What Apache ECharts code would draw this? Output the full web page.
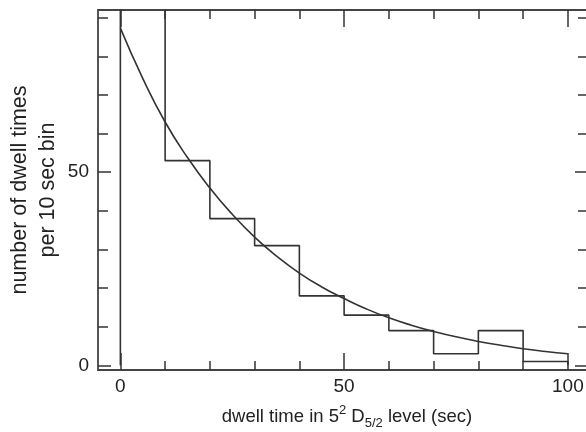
<!DOCTYPE html>
<html>
<head>
<meta charset="utf-8">
<script src="https://cdn.jsdelivr.net/npm/echarts@6/dist/echarts.min.js"></script>
<style>html,body{margin:0;padding:0;background:#fff}#c{width:586px;height:432px}</style>
</head>
<body>
<div id="c"></div>
<script>
// Histogram: bin edges (sec) and counts per 10 sec bin (first bin runs off the top)
const binStarts = [0, 10, 20, 30, 40, 50, 60, 70, 80, 90];
const binWidth = 10;
const binCounts = [105, 53, 38, 31, 18, 13, 9, 3, 9, 1];
// Fitted decay curve
const curveX = [0, 5, 10, 15, 20, 25, 30, 35, 40, 45, 50, 55, 60, 65, 70, 75, 80, 85, 90, 95, 100];
const curveY = [87.3, 74.3, 63, 53.8, 45.9, 39.1, 33.2, 28.2, 23.9, 20.3, 17.3, 14.6, 12.3, 10.4, 8.8, 7.4, 6.2, 5.2, 4.3, 3.6, 3.0];
// Ticks and labels
const xMinorTicks = [0, 10, 20, 30, 40, 50, 60, 70, 80, 90, 100];
const xMajorTicks = [0, 50, 100];
const yMinorTicks = [0, 10, 20, 30, 40, 50, 60, 70, 80, 90];
const yMajorTicks = [0, 50];

const histPts = [[binStarts[0], 0]];
binStarts.forEach((s, i) => {
  histPts.push([s, binCounts[i]]);
  histPts.push([s + binWidth, binCounts[i]]);
});
histPts.push([binStarts[binStarts.length - 1] + binWidth, 0]);
const curvePts = curveX.map((x, i) => [x, curveY[i]]);

const X_MIN = -5, X_MAX = 104.5, Y_MIN = -1.2, Y_MAX = 92;
const lineCol = '#333';
const txt = '#222';
const font = 'Liberation Sans';

function xAx(pos, ticks, len, labels, extra) {
  return Object.assign({
    type: 'value', position: pos, min: X_MIN, max: X_MAX,
    axisLine: { show: false, onZero: false },
    splitLine: { show: false },
    axisTick: { show: true, inside: true, length: len, customValues: ticks, lineStyle: { color: lineCol, width: 1.5 } },
    axisLabel: labels ? { show: true, customValues: labels, margin: 7, fontFamily: font, fontSize: 19, color: txt } : { show: false }
  }, extra || {});
}
function yAx(pos, ticks, len, labels, extra) {
  return Object.assign({
    type: 'value', position: pos, min: Y_MIN, max: Y_MAX,
    axisLine: { show: false, onZero: false },
    splitLine: { show: false },
    axisTick: { show: true, inside: true, length: len, customValues: ticks, lineStyle: { color: lineCol, width: 1.5 } },
    axisLabel: labels ? { show: true, customValues: labels, margin: 9, fontFamily: font, fontSize: 19, color: txt } : { show: false }
  }, extra || {});
}

const chart = echarts.init(document.getElementById('c'), null, { renderer: 'canvas' });
chart.setOption({
  animation: false,
  backgroundColor: '#fff',
  grid: {
    left: 98, right: -2, top: 10, bottom: 62, containLabel: false, outerBoundsMode: 'none',
    show: true, borderColor: '#444', borderWidth: 1.8, backgroundColor: 'transparent'
  },
  xAxis: [
    xAx('bottom', xMinorTicks, 9, xMajorTicks, {
      name: 'dwell time in 5{sup|2} D{sub|5/2} level (sec)',
      nameLocation: 'middle', nameGap: 34, nameMoveOverlap: false,
      nameTextStyle: {
        fontFamily: font, fontSize: 18.5, color: txt, lineHeight: 26, padding: [0, 0, 0, 8],
        rich: {
          sup: { fontFamily: font, fontSize: 13, color: txt, lineHeight: 22, verticalAlign: 'top' },
          sub: { fontFamily: font, fontSize: 13, color: txt, lineHeight: 13, verticalAlign: 'bottom' }
        }
      }
    }),
    xAx('bottom', xMajorTicks, 17, null),
    xAx('top', xMinorTicks, 9, null),
    xAx('top', xMajorTicks, 17, null)
  ],
  yAxis: [
    yAx('left', yMinorTicks, 10, yMajorTicks, {
      name: 'number of dwell times\nper 10 sec bin',
      nameLocation: 'middle', nameGap: 36, nameRotate: 90, nameMoveOverlap: false,
      nameTextStyle: { fontFamily: font, fontSize: 21.5, color: txt, lineHeight: 28 }
    }),
    yAx('left', yMajorTicks, 13, null),
    yAx('right', yMinorTicks, 10, null),
    yAx('right', yMajorTicks, 13, null)
  ],
  series: [
    {
      type: 'line', xAxisIndex: 0, yAxisIndex: 0, data: histPts,
      showSymbol: false, symbol: 'none', clip: true,
      lineStyle: { color: lineCol, width: 1.6 }
    },
    {
      type: 'line', xAxisIndex: 0, yAxisIndex: 0, data: curvePts,
      showSymbol: false, symbol: 'none', smooth: true, clip: true,
      lineStyle: { color: lineCol, width: 1.6 }
    }
  ]
});
</script>
</body>
</html>
